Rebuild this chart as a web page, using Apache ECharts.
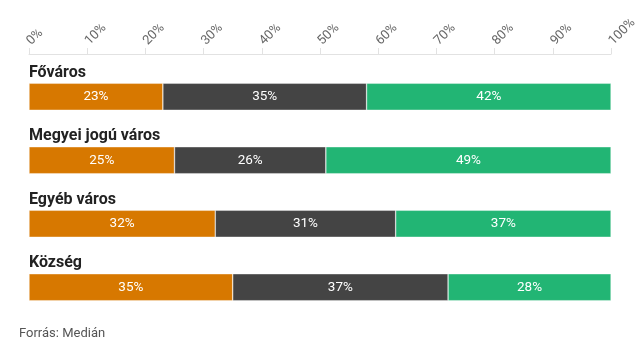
<!DOCTYPE html>
<html>
<head>
<meta charset="utf-8">
<script src="https://cdn.jsdelivr.net/npm/echarts@6/dist/echarts.min.js"></script>
<style>
	html, body { margin: 0; padding: 0; background: #fff; }
	#chart { width: 640px; height: 352px; }
</style>
</head>
<body>
<div id="chart"></div>
<script>
// data
const categories = ["Főváros", "Megyei jogú város", "Egyéb város", "Község"];
const seriesNames = ["A", "B", "C"];
const valuesA = [23, 25, 32, 35];
const valuesB = [35, 26, 31, 37];
const valuesC = [42, 49, 37, 28];
const colors = ["#d77800", "#444444", "#22b574"];

const chart = echarts.init(document.getElementById("chart"));

const makeSeries = (name, data, color) => ({
	name: name,
	type: "bar",
	stack: "total",
	barWidth: 27,
	data: data,
	itemStyle: {
		color: color,
		borderColor: "rgba(255,255,255,0.6)",
		borderWidth: 0.6,
	},
	label: {
		show: true,
		position: "inside",
		color: "#fff",
		fontFamily: "Roboto",
		fontSize: 13.5,
		formatter: "{c}%",
	},
	emphasis: { disabled: true },
});

const option = {
	animation: false,
	textStyle: { fontFamily: "Roboto" },
	grid: { left: 29, right: 28, top: 65, bottom: 33, containLabel: false },
	xAxis: {
		type: "value",
		position: "top",
		min: 0,
		max: 100,
		interval: 10,
		offset: 11,
		axisLine: { show: true, lineStyle: { color: "#e2e2e2" } },
		axisTick: { show: true, length: 6, lineStyle: { color: "#e2e2e2" } },
		splitLine: { show: false },
		axisLabel: {
			rotate: -45,
			align: "left",
			verticalAlign: "middle",
			margin: 11,
			color: "#666",
			fontSize: 13,
			formatter: "{value}%",
		},
	},
	yAxis: {
		type: "category",
		data: categories,
		inverse: true,
		axisLine: { show: false },
		axisTick: { show: false },
		axisLabel: {
			inside: true,
			margin: 0,
			verticalAlign: "bottom",
			padding: [0, 0, 16, 0],
			color: "#222",
			fontWeight: "bold",
			fontSize: 16,
		},
	},
	series: [
		makeSeries(seriesNames[0], valuesA, colors[0]),
		makeSeries(seriesNames[1], valuesB, colors[1]),
		makeSeries(seriesNames[2], valuesC, colors[2]),
	],
	graphic: [
		{
			type: "text",
			left: 19,
			top: 327,
			style: {
				text: "Forrás: Medián",
				fill: "#555",
				font: "13px Roboto",
			},
		},
	],
};

chart.setOption(option);
</script>
</body>
</html>
